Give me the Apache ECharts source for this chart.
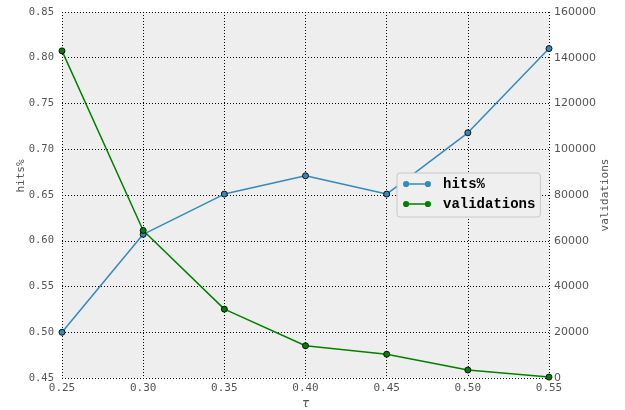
<!DOCTYPE html>
<html>
<head>
<meta charset="utf-8">
<script src="https://cdn.jsdelivr.net/npm/echarts@6/dist/echarts.min.js"></script>
<style>
  html, body { margin: 0; padding: 0; background: #ffffff; overflow: hidden; }
  #chart { width: 625px; height: 410px; }
</style>
</head>
<body>
<div id="chart"></div>
<script>
// tau values along the x axis
const tau = [0.25, 0.30, 0.35, 0.40, 0.45, 0.50, 0.55];
// hit ratio for each tau (left axis)
const hits = [0.500, 0.607, 0.651, 0.671, 0.651, 0.718, 0.810];
// number of validations for each tau (right axis)
const validations = [143000, 64500, 30100, 14100, 10400, 3500, 400];

const seriesNames = ['hits%', 'validations'];
const colors = ['#348ABD', '#008000'];

const mono = 'DejaVu Sans Mono';
const gridLine = { show: true, lineStyle: { color: '#000', type: [1, 2], width: 1 } };

// legend icon: a short line with a marker at each end
const legendIcon = 'path://M0.5,3.5 A3,3 0 1,1 6.5,3.5 A3,3 0 1,1 0.5,3.5 Z ' +
  'M6.5,2.7 L21.5,2.7 L21.5,4.3 L6.5,4.3 Z ' +
  'M21.5,3.5 A3,3 0 1,1 27.5,3.5 A3,3 0 1,1 21.5,3.5 Z';

const chart = echarts.init(document.getElementById('chart'), null, { renderer: 'canvas' });

chart.setOption({
  animation: false,
  backgroundColor: '#ffffff',
  grid: {
    left: 62, right: 76, top: 12, bottom: 32,
    outerBoundsMode: 'none',
    containLabel: false,
    show: true, backgroundColor: '#eeeeee', borderWidth: 0
  },
  legend: {
    data: seriesNames.map(n => ({ name: n, icon: legendIcon })),
    orient: 'vertical',
    left: 397, top: 173,
    itemWidth: 28, itemHeight: 7, itemGap: 6,
    padding: [4, 5, 6, 6],
    backgroundColor: '#efefef',
    borderColor: '#c8c8c8', borderWidth: 1, borderRadius: 3,
    itemStyle: { borderWidth: 0 },
    textStyle: { fontFamily: 'Liberation Mono', fontWeight: 'bold', fontSize: 14, color: '#000', padding: [0, 0, 0, 7] }
  },
  xAxis: {
    type: 'value',
    min: 0.25, max: 0.55, interval: 0.05,
    name: 'τ', nameLocation: 'middle', nameGap: 20, nameMoveOverlap: false,
    nameTextStyle: { fontFamily: 'DejaVu Sans', fontStyle: 'italic', fontSize: 12, color: '#555' },
    axisLine: { show: false },
    axisTick: { show: false },
    axisLabel: {
      margin: 5, color: '#555', fontFamily: mono, fontSize: 11,
      formatter: v => v.toFixed(2)
    },
    splitLine: gridLine
  },
  yAxis: [
    {
      type: 'value',
      min: 0.45, max: 0.85, interval: 0.05,
      name: 'hits%', nameLocation: 'middle', nameGap: 35, nameRotate: 90, nameMoveOverlap: false,
      nameTextStyle: { fontFamily: mono, fontSize: 11, color: '#555', padding: [0, 0, 0, 38] },
      axisLine: { show: false },
      axisTick: { show: false },
      axisLabel: {
        margin: 8, color: '#555', fontFamily: mono, fontSize: 10.5,
        formatter: v => v.toFixed(2)
      },
      splitLine: gridLine
    },
    {
      type: 'value',
      min: 0, max: 160000, interval: 20000,
      position: 'right',
      name: 'validations', nameLocation: 'middle', nameGap: 51, nameRotate: 90, nameMoveOverlap: false,
      nameTextStyle: { fontFamily: mono, fontSize: 11, color: '#555' },
      axisLine: { show: false },
      axisTick: { show: false },
      axisLabel: {
        margin: 5, color: '#555', fontFamily: 'DejaVu Sans', fontSize: 11,
        formatter: v => String(v)
      },
      splitLine: { show: false }
    }
  ],
  series: [
    {
      name: seriesNames[0],
      type: 'line',
      yAxisIndex: 0,
      data: tau.map((t, i) => [t, hits[i]]),
      symbol: 'circle', symbolSize: 6,
      lineStyle: { color: colors[0], width: 1.5 },
      itemStyle: { color: colors[0], borderColor: '#111', borderWidth: 1 }
    },
    {
      name: seriesNames[1],
      type: 'line',
      yAxisIndex: 1,
      data: tau.map((t, i) => [t, validations[i]]),
      symbol: 'circle', symbolSize: 6,
      lineStyle: { color: colors[1], width: 1.5 },
      itemStyle: { color: colors[1], borderColor: '#111', borderWidth: 1 }
    }
  ]
});
</script>
</body>
</html>
